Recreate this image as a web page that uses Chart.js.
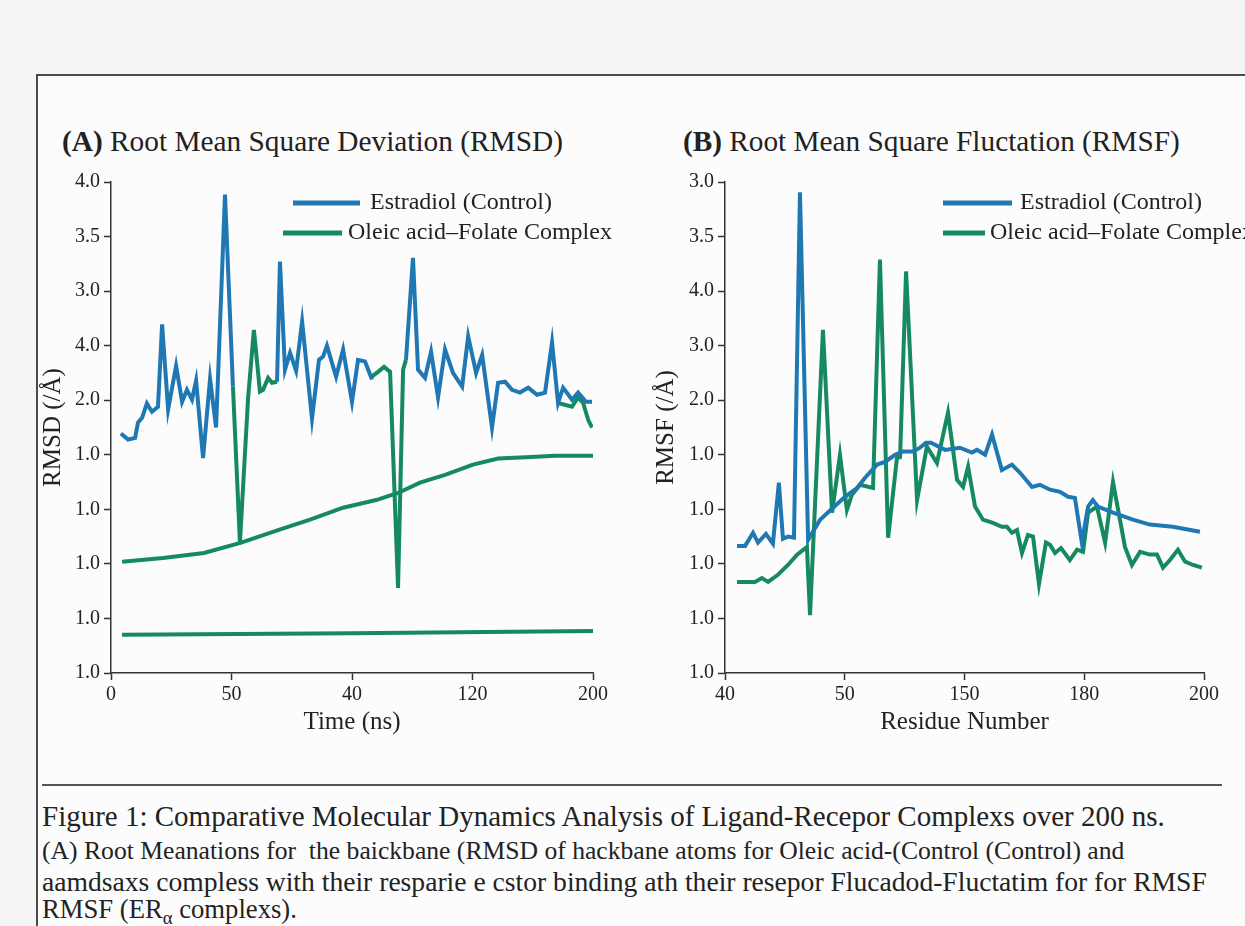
<!DOCTYPE html>
<html>
<head>
<meta charset="utf-8">
<script src="https://cdn.jsdelivr.net/npm/chart.js@4.4.1/dist/chart.umd.min.js"></script>
<style>
  body { margin:0; width:1245px; height:926px; overflow:hidden; position:relative; background:#f5f5f5; font-family:"Liberation Serif","Times New Roman",serif; color:#222; }
  #frame { position:absolute; left:36px; top:74px; width:1230px; height:870px; border:2px solid #4a4a4a; background:#fcfcfc; }
  .box { position:absolute; }
  .txt { position:absolute; white-space:nowrap; line-height:1; transform:translateY(-50%); }
  #rule { position:absolute; left:42px; top:784px; width:1180px; height:0; border-top:2px solid #555; }
</style>
</head>
<body>
<div id="frame"></div>
<div class="txt" id="titleA" style="left:62px; top:142px; font-size:28px" data-w="501"><b>(A)</b> Root Mean Square Deviation (RMSD)</div>
<div class="txt" id="titleB" style="left:683px; top:142px; font-size:28px" data-w="497"><b>(B)</b> Root Mean Square Fluctation (RMSF)</div>
<div class="box" style="left:0px; top:160px; width:620px; height:600px"><canvas id="rmsd"></canvas></div>
<div class="box" style="left:620px; top:160px; width:625px; height:600px"><canvas id="rmsf"></canvas></div>
<div id="rule"></div>
<div class="txt" style="left:42px; top:817px; font-size:26px" data-w="1123">Figure 1: Comparative Molecular Dynamics Analysis of Ligand-Recepor Complexs over 200 ns.</div>
<div class="txt" style="left:42px; top:851px; font-size:21px" data-w="1083">(A) Root Meanations for&nbsp; the baickbane (RMSD of hackbane atoms for Oleic acid-(Control (Control) and</div>
<div class="txt" style="left:42px; top:882px; font-size:21px" data-w="1165">aamdsaxs compless with their resparie e cstor binding ath their resepor Flucadod-Fluctatim for for RMSF</div>
<div class="txt" style="left:42px; top:912px; font-size:21px" data-w="255">RMSF (ER<sub style="font-size:0.7em">α</sub> complexs).</div>

<script>
// tick labels exactly as printed (they repeat)
const rmsdXLabels = ['0', '50', '40', '120', '200'];
const rmsdYLabels = ['1.0', '1.0', '1.0', '1.0', '1.0', '2.0', '4.0', '3.0', '3.5', '4.0'];
const rmsfXLabels = ['40', '50', '150', '180', '200'];
const rmsfYLabels = ['1.0', '1.0', '1.0', '1.0', '1.0', '2.0', '3.0', '4.0', '3.5', '3.0'];

// series names
const seriesNames = ['Estradiol (Control)', 'Oleic acid\u2013Folate Complex'];
const blue = '#1f78b4';
const green = '#158a5f';

// (A) RMSD, y in tick steps from the bottom tick; null = line break
const estradiolTimeA = [4.1,7.1,10.0,11.2,12.9,14.9,17.0,19.5,21.2,23.7,27.0,29.5,31.5,33.6,35.3,38.2,41.1,43.6,47.3,50.6,
  60,
  68.9,70.1,72.2,74.3,76.8,79.3,83.4,86.3,88.0,89.6,93.4,96.3,100.0,102.5,105.4,108.3,
  115,
  122.4,125.3,127.4,130.3,132.8,135.7,138.6,141.9,145.7,148.2,151.5,154.0,158.1,160.6,163.5,166.4,169.7,173.1,176.8,180.1,183.0,185.5,187.6,191.3,193.8,197.1,199.6];
const estradiolRmsdA = [4.39,4.28,4.31,4.59,4.68,4.94,4.79,4.88,6.39,4.83,5.63,4.97,5.19,5.01,5.36,3.94,5.39,4.50,8.77,5.25,
  null,
  5.34,7.54,5.56,5.87,5.54,6.44,4.66,5.74,5.80,6.00,5.43,5.93,4.97,5.74,5.71,5.38,
  null,
  5.74,7.61,5.56,5.41,5.89,5.05,5.93,5.50,5.25,6.17,5.50,5.83,4.50,5.32,5.34,5.19,5.14,5.23,5.10,5.14,6.06,4.95,5.23,5.01,5.14,4.97,4.97];

const oleicTimeA = [50.6,53.5,56.9,59.3,61.8,63.1,65.2,66.8,68.9, 90, 107.5,110.8,113.3,115.8,119.1,121.2,122.4, 150, 185.5,191.3,193.8,195.9,198.0,199.6];
const oleicRmsdA = [5.25,2.39,5.05,6.29,5.16,5.19,5.41,5.32,5.34, null, 5.41,5.52,5.61,5.52,1.56,5.56,5.74, null, 4.95,4.88,5.05,4.95,4.64,4.50];

const oleicTrendTimeA = [4.6,21.6,38.6,54.0,69.3,82.6,96.3,110.0,119.1,128.2,138.6,150.2,160.6,174.3,184.3,200];
const oleicTrendRmsdA = [2.04,2.11,2.20,2.39,2.62,2.81,3.03,3.17,3.30,3.49,3.63,3.82,3.93,3.96,3.98,3.98];

const oleicBaseTimeA = [4.6, 100, 200];
const oleicBaseRmsdA = [0.70, 0.73, 0.77];

// (B) RMSF
const estradiolResB = [5.0,8.4,11.7,13.8,17.1,20.0,22.5,24.2,26.3,28.8,31.3,34.7,39.7,45.1,50.1,55.1,58.5,63.5,66.8,71.0,
  74.3,78.5,81.4,83.9,86.0,91.9,98.1,103.1,105.2,108.6,111.5,115.6,119.8,123.2,128.2,131.5,135.7,139.9,143.2,146.1,
  149.0,151.6,153.6,155.7,162.0,170.3,177.4,187.0,198.3];
const estradiolRmsfB = [2.33,2.33,2.57,2.39,2.55,2.37,3.49,2.46,2.50,2.48,8.81,2.44,2.81,3.03,3.23,3.39,3.58,3.82,3.87,4.00,
  4.06,4.06,4.13,4.22,4.22,4.09,4.13,4.04,4.09,4.00,4.37,3.72,3.82,3.67,3.41,3.45,3.36,3.32,3.23,3.21,
  2.39,3.05,3.17,3.05,2.94,2.81,2.72,2.68,2.59];

const oleicResB = [5.0,12.5,15.4,18.0,22.1,26.3,30.1,34.2,35.5,40.9,44.7,48.0,50.9,53.0,56.4,61.8,64.7,68.1,71.8,73.1,
  75.6,80.2,84.3,88.5,93.1,96.9,99.4,101.5,104.4,107.7,111.9,115.6,117.7,119.8,121.9,124.0,126.5,128.6,131.1,134.0,
  135.7,137.8,140.3,144.0,147.0,149.5,151.6,155.3,158.7,162.0,164.9,167.0,169.9,173.3,177.4,180.4,182.9,185.8,189.1,192.1,
  195.4,199.1];
const oleicRmsfB = [1.67,1.67,1.74,1.67,1.80,1.98,2.17,2.31,1.06,6.29,2.94,4.00,2.99,3.27,3.45,3.39,7.58,2.48,3.94,3.96,
  7.36,3.17,4.15,3.85,4.77,3.54,3.41,3.78,3.05,2.81,2.75,2.68,2.68,2.57,2.62,2.20,2.53,2.50,1.63,2.39,
  2.35,2.20,2.29,2.07,2.26,2.22,2.94,3.05,2.39,3.50,2.81,2.31,1.98,2.22,2.17,2.17,1.93,2.07,2.26,2.04,
  1.98,1.93];

const serif = '"Liberation Serif", "Times New Roman", serif';

function pts(xs, ys) {
  return xs.map((x, i) => ({ x: x, y: ys[i] }));
}

function trace(label, color, xs, ys) {
  return { label: label, data: pts(xs, ys), borderColor: color, backgroundColor: color,
           borderWidth: 4, pointRadius: 0, tension: 0, spanGaps: false };
}

// legend drawn inside the plot, stacked like the figure
const lineLegend = {
  id: 'lineLegend',
  afterDraw(chart, args, opts) {
    const { ctx, chartArea } = chart;
    ctx.save();
    ctx.font = '24px ' + serif;
    ctx.textBaseline = 'middle';
    opts.items.forEach(it => {
      const ds = chart.data.datasets[it.ds];
      const y = chartArea.top + it.y;
      ctx.strokeStyle = ds.borderColor;
      ctx.lineWidth = 5;
      ctx.beginPath();
      ctx.moveTo(chartArea.left + it.x0, y);
      ctx.lineTo(chartArea.left + it.x1, y);
      ctx.stroke();
      ctx.fillStyle = '#222';
      ctx.fillText(ds.label, chartArea.left + it.tx, y);
    });
    ctx.restore();
  }
};

function panelOptions(cfg) {
  return {
    responsive: true,
    maintainAspectRatio: false,
    animation: false,
    layout: { padding: cfg.padding },
    plugins: {
      legend: { display: false },
      tooltip: { enabled: false },
      lineLegend: { items: cfg.legend }
    },
    scales: {
      x: {
        type: 'linear', min: 0, max: 200,
        afterFit: s => { s.height = 87; },
        border: { color: '#333', width: 1.5 },
        grid: { drawOnChartArea: false, tickLength: 7, tickColor: '#333', tickWidth: 1.5 },
        ticks: { stepSize: 50, autoSkip: false, maxRotation: 0, padding: 3, color: '#222',
                 font: { family: serif, size: 20 },
                 callback: v => cfg.xLabels[v / 50] },
        title: { display: true, text: cfg.xTitle, color: '#222',
                 font: { family: serif, size: 25 }, padding: { top: 0, bottom: 23 } }
      },
      y: {
        min: 0, max: 9,
        afterFit: s => { s.width = cfg.yWidth; },
        border: { color: '#333', width: 1.5 },
        grid: { drawOnChartArea: false, tickLength: 7, tickColor: '#333', tickWidth: 1.5 },
        ticks: { stepSize: 1, autoSkip: false, padding: 4, color: '#222',
                 font: { family: serif, size: 20 },
                 callback: v => cfg.yLabels[v] },
        title: { display: true, text: cfg.yTitle, color: '#222',
                 font: { family: serif, size: 25 }, padding: { top: cfg.yTitlePad, bottom: 0 } }
      }
    }
  };
}

new Chart(document.getElementById('rmsd'), {
  type: 'line',
  data: {
    datasets: [
      trace(seriesNames[0], blue, estradiolTimeA, estradiolRmsdA),
      trace(seriesNames[1], green, oleicTimeA, oleicRmsdA),
      trace(seriesNames[1], green, oleicTrendTimeA, oleicTrendRmsdA),
      trace(seriesNames[1], green, oleicBaseTimeA, oleicBaseRmsdA)
    ]
  },
  options: panelOptions({
    padding: { left: 0, right: 27, top: 22, bottom: 0 },
    yWidth: 111, yTitlePad: 38,
    xLabels: rmsdXLabels, yLabels: rmsdYLabels,
    xTitle: 'Time (ns)', yTitle: 'RMSD (/\u00c5)',
    legend: [
      { ds: 0, x0: 182, x1: 249, y: 21, tx: 259 },
      { ds: 1, x0: 172, x1: 231, y: 51, tx: 237 }
    ]
  }),
  plugins: [lineLegend]
});

new Chart(document.getElementById('rmsf'), {
  type: 'line',
  data: {
    datasets: [
      trace(seriesNames[0], blue, estradiolResB, estradiolRmsfB),
      trace(seriesNames[1], green, oleicResB, oleicRmsfB)
    ]
  },
  options: panelOptions({
    padding: { left: 0, right: 41, top: 22, bottom: 0 },
    yWidth: 105, yTitlePad: 31,
    xLabels: rmsfXLabels, yLabels: rmsfYLabels,
    xTitle: 'Residue Number', yTitle: 'RMSF (/\u00c5)',
    legend: [
      { ds: 0, x0: 218, x1: 287, y: 21, tx: 295 },
      { ds: 1, x0: 218, x1: 260, y: 51, tx: 265 }
    ]
  }),
  plugins: [lineLegend]
});

// size the html texts to the widths they take in the figure
document.querySelectorAll('.txt[data-w]').forEach(el => {
  const w = el.getBoundingClientRect().width;
  const fs = parseFloat(getComputedStyle(el).fontSize);
  el.style.fontSize = (fs * Number(el.dataset.w) / w).toFixed(2) + 'px';
});
</script>
</body>
</html>
